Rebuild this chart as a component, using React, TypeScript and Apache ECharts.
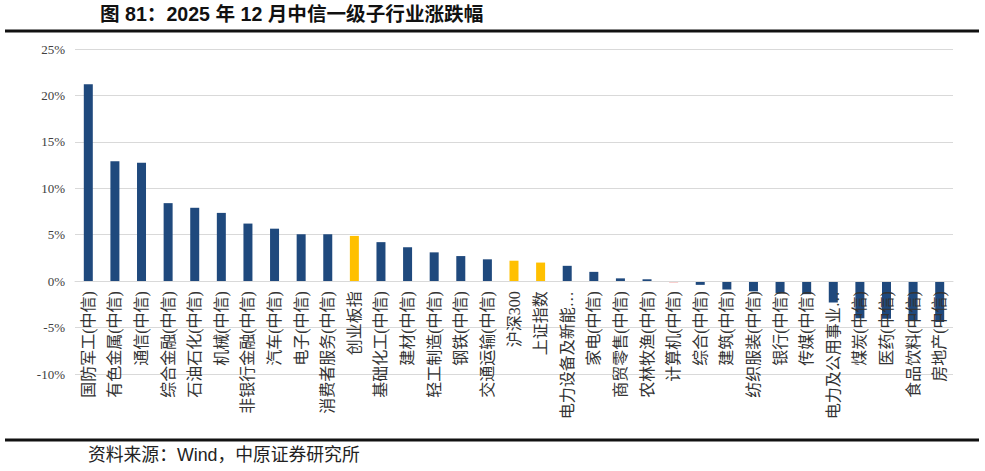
import React, { useEffect, useRef } from "react";
import * as echarts from "echarts";

const categories: string[] = [
  "国防军工(中信)", "有色金属(中信)", "通信(中信)", "综合金融(中信)", "石油石化(中信)",
  "机械(中信)", "非银行金融(中信)", "汽车(中信)", "电子(中信)", "消费者服务(中信)",
  "创业板指", "基础化工(中信)", "建材(中信)", "轻工制造(中信)", "钢铁(中信)",
  "交通运输(中信)", "沪深300", "上证指数", "电力设备及新能…", "家电(中信)",
  "商贸零售(中信)", "农林牧渔(中信)", "计算机(中信)", "综合(中信)", "建筑(中信)",
  "纺织服装(中信)", "银行(中信)", "传媒(中信)", "电力及公用事业…", "煤炭(中信)",
  "医药(中信)", "食品饮料(中信)", "房地产(中信)",
];

const changes: number[] = [
  21.2, 12.9, 12.75, 8.4, 7.9,
  7.35, 6.2, 5.65, 5.05, 5.05,
  4.87, 4.2, 3.65, 3.1, 2.7,
  2.35, 2.2, 2.0, 1.65, 1.0,
  0.3, 0.2, -0.15, -0.4, -0.9,
  -1.1, -1.3, -1.4, -2.3, -4.0,
  -4.05, -4.2, -4.4,
];

const benchmarks: string[] = ["创业板指", "沪深300", "上证指数"];
const pinkCategories: string[] = ["计算机(中信)"];

const yTicks = { min: -10, max: 25, interval: 5 };

const titleText = "图 81：2025 年 12 月中信一级子行业涨跌幅";
const sourceText = "资料来源：Wind，中原证券研究所";

const NAVY = "#1F497D";
const YELLOW = "#FFC000";
const PINK = "#F4A7A6";

const GRID_TOP = 49;
const GRID_BOTTOM = 97;
const CHART_H = 471;

export default function App() {
  const ref = useRef<HTMLDivElement>(null);

  useEffect(() => {
    if (!ref.current) return;
    const chart = echarts.init(ref.current, undefined, { renderer: "svg" });
    const data = categories.map((c, i) => ({
      value: changes[i],
      itemStyle: {
        color: benchmarks.includes(c) ? YELLOW : pinkCategories.includes(c) ? PINK : NAVY,
      },
    }));
    const plotH = CHART_H - GRID_TOP - GRID_BOTTOM;
    const zeroFromBottom = (plotH * (0 - yTicks.min)) / (yTicks.max - yTicks.min);
    chart.setOption({
      animation: false,
      backgroundColor: "#ffffff",
      grid: {
        left: 75,
        right: 32,
        top: GRID_TOP,
        bottom: GRID_BOTTOM,
        containLabel: false,
        outerBoundsMode: "none",
      },
      xAxis: {
        type: "category",
        data: categories,
        z: 5,
        offset: -zeroFromBottom,
        axisLine: { onZero: false, lineStyle: { color: "#d9d9d9", width: 1 } },
        axisTick: { show: false },
        axisLabel: {
          interval: 0,
          rotate: 90,
          margin: 10,
          fontSize: 16,
          color: "#333333",
          fontFamily: "'Liberation Serif', 'Noto Sans CJK SC', serif",
        },
        splitLine: { show: false },
      },
      yAxis: {
        type: "value",
        min: yTicks.min,
        max: yTicks.max,
        interval: yTicks.interval,
        axisLine: { show: false },
        axisTick: { show: false },
        axisLabel: {
          formatter: "{value}%",
          fontSize: 13,
          margin: 10,
          color: "#404040",
          fontFamily: "'Liberation Serif', serif",
        },
        splitLine: { lineStyle: { color: "#d9d9d9", width: 1 } },
      },
      series: [
        {
          type: "bar",
          data,
          barWidth: 9,
          z: 2,
        },
      ],
      graphic: [
        {
          type: "text",
          left: 100,
          top: 4,
          style: {
            text: titleText,
            fontSize: 19.6,
            fontWeight: "bold",
            fill: "#111111",
            fontFamily: "Arial, 'Liberation Sans', 'Noto Sans CJK SC', sans-serif",
          },
        },
        {
          type: "line",
          shape: { x1: 5, y1: 31, x2: 979, y2: 31 },
          style: { stroke: "#111111", lineWidth: 3 },
        },
        {
          type: "line",
          shape: { x1: 5, y1: 440, x2: 979, y2: 440 },
          style: { stroke: "#111111", lineWidth: 3 },
        },
        {
          type: "text",
          left: 88,
          top: 446,
          style: {
            text: sourceText,
            fontSize: 17.8,
            fill: "#222222",
            fontFamily: "Arial, 'Liberation Sans', 'Noto Sans CJK SC', sans-serif",
          },
        },
      ],
    });
    return () => chart.dispose();
  }, []);

  return (
    <div
      ref={ref}
      style={{ position: "fixed", left: 0, top: 0, width: 985, height: 471, background: "#fff" }}
    />
  );
}
